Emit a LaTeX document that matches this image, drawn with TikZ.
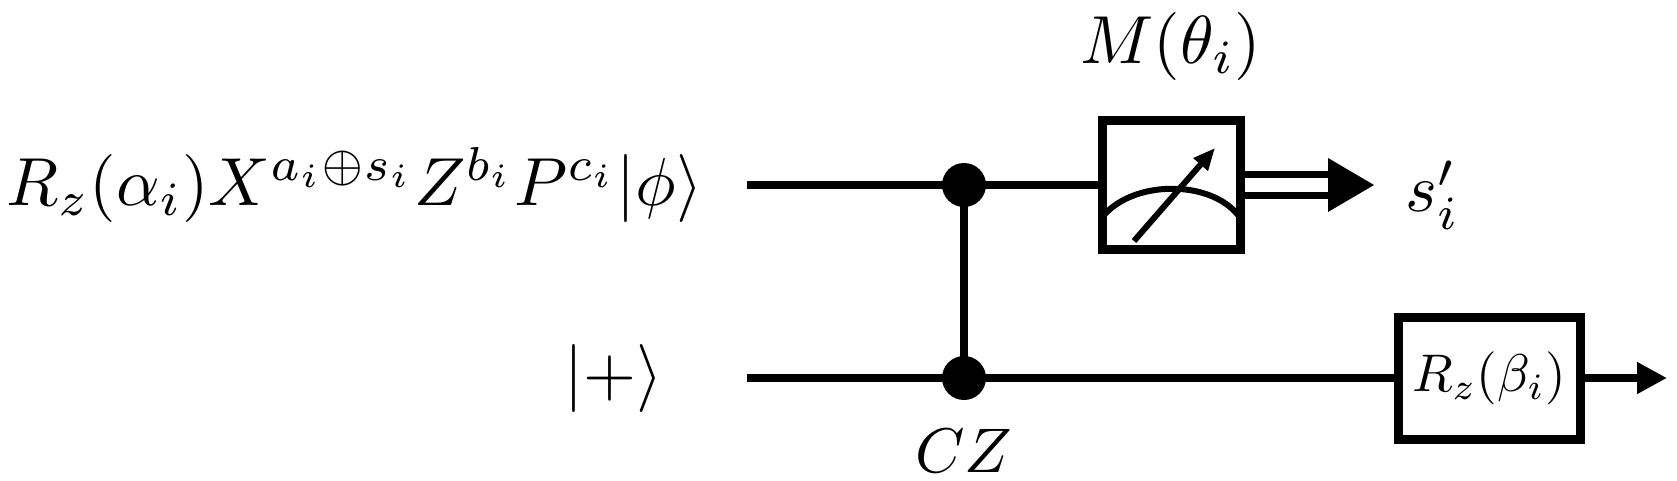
\documentclass[tikz,border=0pt]{standalone}
\usetikzlibrary{arrows.meta}
\begin{document}
\begin{tikzpicture}[x=1pt,y=1pt,line width=8pt,
  lbl/.style={inner sep=0pt,scale=6.8},
  gate/.style={draw,line width=9pt,inner sep=0pt,minimum width=182pt,minimum height=122pt},
  dotc/.style={circle,fill,inner sep=0pt,minimum size=44pt}]
\useasboundingbox (0,0) rectangle (1677,480);
\coordinate (tin) at (747,295);
\coordinate (bin) at (747,102);
\node[lbl,anchor=east] (L1) at (730,295) {$R_z(\alpha_i)X^{a_i\oplus s_i}Z^{b_i}P^{c_i}|\phi\rangle$};
\node[lbl,anchor=east] (L2) at (690,102) {$|{+}\rangle$};
\node[dotc] (d1) at (964,295) {};
\node[dotc] (d2) at (964,102) {};
\node[draw,line width=9pt,inner sep=0pt,minimum width=138pt,minimum height=129pt] (M) at (1171,295) {};
\node[lbl,anchor=south] (ML) at (1171,372) {$M(\theta_i)$};
\node[gate] (R) at (1489,102) {};
\node[inner sep=0pt,scale=5.3] (RL) at (R.center) {$R_z(\beta_i)$};
\coordinate (out) at (1667,102);
\draw (tin) -- (M.west);
\draw (bin) -- (R.west);
\draw (d1.center) -- (d2.center);
\node[inner sep=0pt,scale=6.3,anchor=north] (CZ) at (964,76) {$CZ$};
\draw[-{Triangle[length=30pt,width=30pt]}] (R.east) -- (out);
% meter
\draw[line width=6pt] (1104,265) .. controls (1135,300) and (1210,300) .. (1238,265);
\draw[line width=6pt,-{Triangle[length=22pt,width=18pt]}] (1134,239) -- (1215,332);
% double classical line
\coordinate (ah) at (1330,295);
\coordinate (tip) at (1374,295);
\draw[line width=7pt] (M.east|-0,305) -- (ah|-0,305);
\draw[line width=7pt] (M.east|-0,285) -- (ah|-0,285);
\fill (1328,322) -- (tip) -- (1328,268) -- cycle;
\node[lbl,anchor=west] (S) at (1378,285) {$s_i'$};
\end{tikzpicture}
\end{document}
